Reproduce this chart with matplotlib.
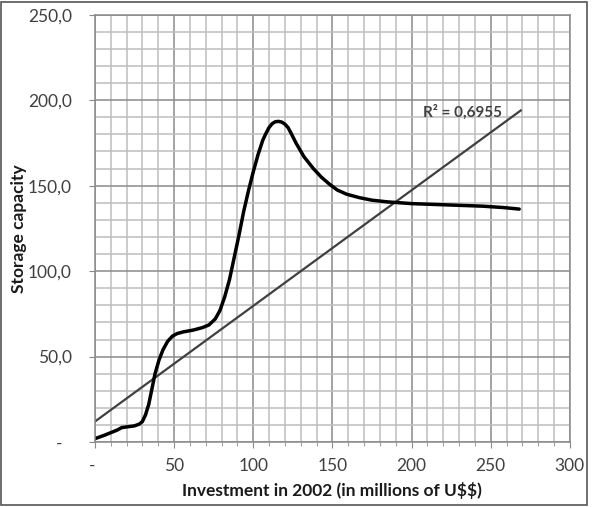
import matplotlib
matplotlib.use("Agg")
import matplotlib.pyplot as plt
from matplotlib.patches import Rectangle
from matplotlib.ticker import MultipleLocator

plt.rcParams['font.family'] = ['Lato', 'DejaVu Sans']

# curve
invest = [0, 3, 6, 10, 14, 17, 21, 25, 28, 30, 32, 34, 36, 38, 40.5, 43, 46, 49, 52,
          56, 62, 68, 72, 76, 79, 82, 85, 88, 91, 94, 97, 100, 103, 106, 108, 110,
          112, 114, 116, 118, 120, 122, 124, 127, 132, 138, 143, 148, 153, 159, 167,
          175, 185, 200, 215, 230, 245, 258, 268]
storage = [2, 3, 4, 5.5, 7, 8.5, 9, 9.5, 10.5, 12, 16, 22, 31, 40, 48, 54, 59, 62, 63.5,
           64.5, 65.5, 67, 68.5, 72, 77, 85, 95, 108, 121, 135, 147, 158, 168, 176.5, 180.5,
           184, 186.3, 187.4, 187.6, 187.2, 186, 184, 180.5, 175, 167, 160, 155, 151, 147.5,
           145, 143, 141.5, 140.5, 139.5, 139, 138.5, 138, 137.2, 136.3]

# linear trendline end points
trend_x = [0, 269]
trend_y = [12, 194]
r2_text = "R\u00b2 = 0,6955"

x_ticks = [0, 50, 100, 150, 200, 250, 300]
x_labels = ["- ", "50", "100", "150", "200", "250", "300"]
y_ticks = [0, 50, 100, 150, 200, 250]
y_labels = ["-  ", "50,0", "100,0", "150,0", "200,0", "250,0"]

my_dpi = 100
fig = plt.figure(figsize=(593/my_dpi, 507/my_dpi), dpi=my_dpi)
ax = fig.add_axes([0.160, 0.128, 0.801, 0.843])

ax.set_xlim(0, 300)
ax.set_ylim(0, 250)

ax.xaxis.set_minor_locator(MultipleLocator(10))
ax.yaxis.set_minor_locator(MultipleLocator(10))
ax.grid(which='minor', color='#bdbdbd', linewidth=1.1)
ax.grid(which='major', color='#8a8a8a', linewidth=1.1)
ax.set_axisbelow(True)

ax.set_xticks(x_ticks)
ax.set_xticklabels(x_labels)
ax.set_yticks(y_ticks)
ax.set_yticklabels(y_labels)
ax.tick_params(which='major', length=4.5, color='#8a8a8a', labelsize=12.5,
               labelcolor='#404040')
ax.tick_params(axis='x', which='minor', length=3, color='#8a8a8a')
ax.tick_params(axis='y', which='minor', length=0)
ax.tick_params(axis='y', pad=12)
ax.tick_params(axis='x', pad=7)
for s in ax.spines.values():
    s.set_color('#8a8a8a')
    s.set_linewidth(1.1)

ax.plot(trend_x, trend_y, color='#404040', linewidth=1.6)
ax.plot(invest, storage, color='black', linewidth=2.5, solid_joinstyle='round',
        solid_capstyle='round')
ax.text(232, 193, r2_text, fontsize=11, fontweight='bold', color='#404040',
        ha='center', va='center')

ax.set_xlabel(r"Investment in 2002 (in millions of U\$\$)", fontsize=12.5,
              fontweight='bold', color='#1a1a1a', labelpad=6)
ax.set_ylabel("Storage capacity", fontsize=12.5, fontweight='bold',
              color='#1a1a1a')
ax.yaxis.set_label_coords(-0.143, 0.5)

fig.patches.append(Rectangle((0.002, 0.003), 0.988, 0.994, transform=fig.transFigure,
                             fill=False, edgecolor='#555555', linewidth=1.2))

plt.savefig('out.png', dpi=my_dpi)
